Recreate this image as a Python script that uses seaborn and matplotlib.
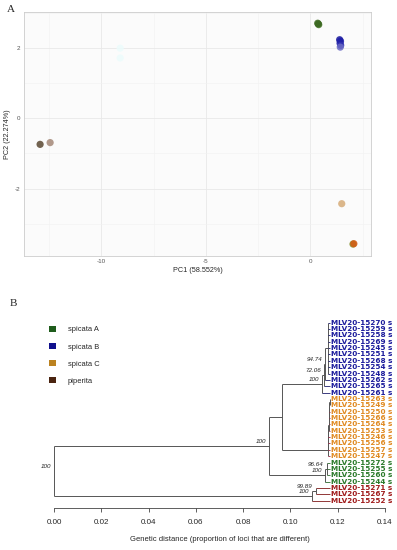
import numpy as np
import pandas as pd
import matplotlib
matplotlib.use("Agg")
import matplotlib.pyplot as plt
import seaborn as sns
from matplotlib.patches import Patch

# ---- Panel A data (PCA) ----
pc1 = [0.35, 0.40, 0.38, 1.40, 1.44, 1.42, 1.45, 1.43, -9.10, -9.10, -12.93, -12.45, 1.50, 2.04, 2.08]
pc2 = [2.71, 2.67, 2.69, 2.24, 2.20, 2.14, 2.08, 2.03, 2.00, 1.72, -0.74, -0.69, -2.43, -3.58, -3.57]
pt_color = ["#3f6e24", "#4a7a2c", "#3a6620", "#16169c", "#1c1ca8", "#2020a6", "#3030b0", "#6a6ac4",
            "#ecfcfc", "#ecfcfc", "#5a4832", "#a48878", "#d6ab78", "#7f8a26", "#d65a12"]

# ---- Panel B data (tree) ----
tip_names = ["15270", "15259", "15258", "15269", "15245", "15251", "15268", "15254", "15248", "15262",
             "15265", "15261", "15263", "15249", "15250", "15266", "15264", "15253", "15246", "15256",
             "15257", "15247", "15272", "15255", "15260", "15244", "15271", "15267", "15252"]
tip_group = ["B"] * 12 + ["C"] * 10 + ["A"] * 4 + ["P"] * 3
tip_parent = [6, 6, 6, 6, 6, 6, 6, 6, 6, 5, 4, 3,
              15, 15, 14, 13, 12, 11, 10, 9, 8, 7,
              17, 17, 17, 16, 19, 19, 18]
tip_depth = [0.1168] * 29
node_parent = [-1, 0, 1, 2, 3, 4, 5, 2, 7, 8, 9, 10, 11, 12, 13, 14, 1, 16, 0, 18]
node_depth = [0.0, 0.0909, 0.0965, 0.1133, 0.1140, 0.1148, 0.1160,
              0.1158, 0.1159, 0.1160, 0.1161, 0.1162, 0.1163, 0.1164, 0.1165, 0.1166,
              0.1146, 0.1153, 0.1093, 0.1107]
node_support = ["100", "100", "", "100", "72.06", "94.74", "",
                "", "", "", "", "", "", "", "", "",
                "100", "96.64", "100", "99.89"]

legend_labels = ["spicata A", "spicata B", "spicata C", "piperita"]
legend_colors = ["#1f5c1c", "#10108c", "#bb8220", "#4a2410"]
label_colors = {"A": "#2b7a2b", "B": "#1c1c9c", "C": "#e08a22", "P": "#a01c1c"}
edge_colors = {"A": "#2b6a2b", "B": "#1c1c6c", "C": "#a02040", "P": "#801818"}

sns.set_theme(style="whitegrid")
plt.rcParams["font.family"] = ["Liberation Sans", "DejaVu Sans"]

fig = plt.figure(figsize=(3.97, 5.5), dpi=100)
W, H = 397.0, 550.0

# ---------- Panel A ----------
axA = fig.add_axes([24 / W, 1 - 256 / H, 347 / W, 244 / H])
df = pd.DataFrame({"PC1": pc1, "PC2": pc2, "col": pt_color})
sns.scatterplot(data=df, x="PC1", y="PC2", hue="col", palette={c: c for c in pt_color},
                s=27, alpha=0.85, edgecolor="none", legend=False, ax=axA, zorder=3)
axA.set_xlim(-13.7, 2.9)
axA.set_ylim(-3.92, 3.03)
axA.set_facecolor("#fbfbfb")
axA.set_xticks([-10, -5, 0])
axA.set_yticks([-2, 0, 2])
axA.set_xticks([-12.5, -7.5, -2.5, 2.5], minor=True)
axA.set_yticks([-3, -1, 1, 3], minor=True)
axA.grid(which="major", color="#e8e8e8", linewidth=0.6)
axA.grid(which="minor", color="#f2f2f2", linewidth=0.4)
axA.tick_params(axis="both", which="major", labelsize=4.5, labelcolor="#555555",
                length=1.5, width=0.4, color="#aaaaaa", pad=1)
axA.tick_params(axis="both", which="minor", length=0)
axA.set_xticklabels(["-10", "-5", "0"])
axA.set_yticklabels(["-2", "0", "2"])
for sp in axA.spines.values():
    sp.set_color("#cccccc")
    sp.set_linewidth(0.6)
axA.set_xlabel("PC1 (58.552%)", fontsize=5.2, labelpad=2)
axA.set_ylabel("PC2 (22.274%)", fontsize=5.2, labelpad=3)

fig.text(7 / W, 1 - 9 / H, "A", family="Liberation Serif", fontsize=8, va="center", ha="left")
fig.text(10 / W, 1 - 303 / H, "B", family="Liberation Serif", fontsize=8, va="center", ha="left")

# ---------- Panel B ----------
axB = fig.add_axes([54 / W, 1 - 508 / H, 331 / W, 193 / H])
axB.set_facecolor("white")
axB.grid(False)
n_tips = len(tip_names)
n_nodes = len(node_depth)
children = {i: [] for i in range(n_nodes)}
for t, p in enumerate(tip_parent):
    children[p].append(("t", t))
for nd, p in enumerate(node_parent):
    if p >= 0:
        children[p].append(("n", nd))

node_y = [0.0] * n_nodes


def y_of(item):
    kind, i = item
    return float(i) if kind == "t" else node_y[i]


for nd in range(n_nodes - 1, -1, -1):
    ys = [y_of(c) for c in children[nd]]
    node_y[nd] = (min(ys) + max(ys)) / 2

line_kw = dict(color="#555555", linewidth=0.7, solid_capstyle="butt")
for nd in range(n_nodes):
    ys = [y_of(c) for c in children[nd]]
    axB.plot([node_depth[nd], node_depth[nd]], [min(ys), max(ys)], **line_kw)
    p = node_parent[nd]
    if p >= 0:
        axB.plot([node_depth[p], node_depth[nd]], [node_y[nd], node_y[nd]], **line_kw)
    if node_support[nd]:
        axB.text(node_depth[nd] - 0.0012, node_y[nd] - 0.35, node_support[nd], fontsize=4.5,
                 style="italic", ha="right", va="bottom", color="#222222")

for t in range(n_tips):
    p = tip_parent[t]
    axB.plot([node_depth[p], tip_depth[t]], [t, t], color=edge_colors[tip_group[t]],
             linewidth=0.6, solid_capstyle="butt")
    axB.text(tip_depth[t] + 0.0003, t, "MLV20-" + tip_names[t] + " s", fontsize=5.2,
             family="DejaVu Sans", fontweight="bold", color=label_colors[tip_group[t]],
             ha="left", va="center", clip_on=False)

axB.set_xlim(0, 0.14)
axB.set_ylim(29.15, -1.21)
for s in ["top", "right", "left"]:
    axB.spines[s].set_visible(False)
axB.spines["bottom"].set_color("#444444")
axB.spines["bottom"].set_linewidth(0.6)
axB.set_yticks([])
axB.set_xticks(np.arange(0, 0.141, 0.02))
axB.set_xticklabels(["0.00", "0.02", "0.04", "0.06", "0.08", "0.10", "0.12", "0.14"])
axB.tick_params(axis="x", direction="out", length=3, width=0.6, color="#444444",
                labelsize=5.8, pad=5, bottom=True)
axB.set_xlabel("Genetic distance (proportion of loci that are different)", fontsize=5.5, labelpad=7)

handles = [Patch(facecolor=c, edgecolor="none") for c in legend_colors]
fig.legend(handles, legend_labels, loc="upper left", bbox_to_anchor=(45 / W, 1 - 322 / H),
           frameon=False, fontsize=5.4, handlelength=0.9, handleheight=0.9,
           handletextpad=1.6, labelspacing=1.25, borderpad=0)

fig.savefig("out.png", dpi=100)
